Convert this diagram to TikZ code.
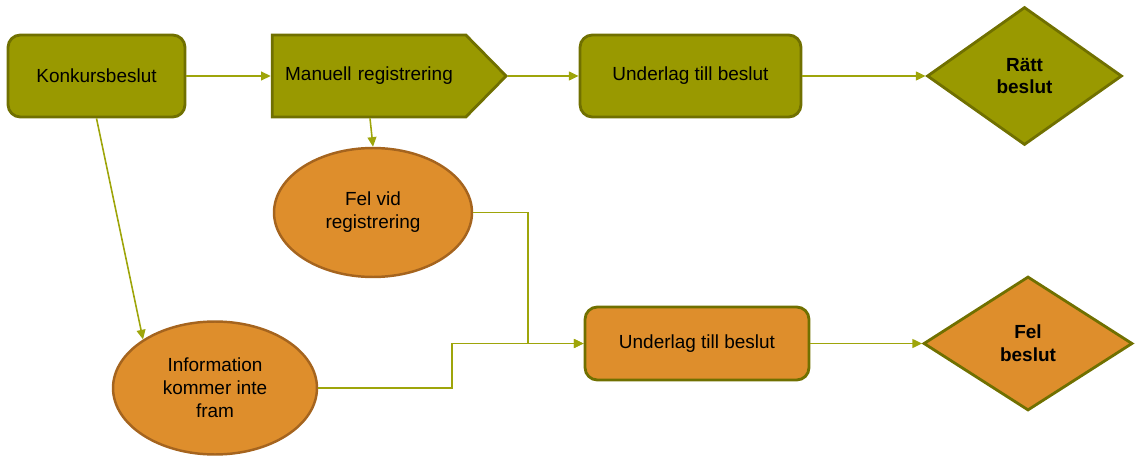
\documentclass[tikz,border=0pt]{standalone}
\usepackage{fontspec}
\setmainfont{Liberation Sans}
\usetikzlibrary{arrows.meta,shapes.geometric,shapes.symbols}
\definecolor{olivefill}{RGB}{153,153,0}
\definecolor{olivedraw}{RGB}{112,112,0}
\definecolor{orangefill}{RGB}{222,142,44}
\definecolor{orangedraw}{RGB}{165,100,30}
\definecolor{connline}{RGB}{158,165,10}
\begin{document}
\begin{tikzpicture}[x=0.02cm, y=-0.02cm,
        every node/.style={font=\fontsize{10.8}{13}\selectfont, align=center, text=black},
        flowbox/.style={draw=olivedraw, line width=1.6pt, rounded corners=7pt},
        choice/.style={diamond, draw=olivedraw, line width=1.6pt, inner sep=0pt},
        fault/.style={ellipse, draw=orangedraw, fill=orangefill, line width=1.4pt},
        conn/.style={draw=connline, line width=0.9pt, -{Triangle[length=5.5pt,width=5pt]}}]
                \useasboundingbox (0, 0) rectangle (1135, 459);
                \node[flowbox, fill=olivefill, minimum width=3.54cm, minimum height=1.64cm] (konk) at (96.5, 76) {Konkursbeslut};
                \node[signal, signal to=east, signal pointer angle=91, draw=olivedraw, fill=olivefill, line width=1.6pt,
                      minimum width=4.68cm, minimum height=1.64cm, text width=3.4cm] (manuell) at (369, 76) {Manuell registrering};
                \node[flowbox, fill=olivefill, minimum width=4.42cm, minimum height=1.64cm] (underlag) at (690.5, 76) {Underlag till beslut};
                \node[choice, fill=olivefill, minimum width=3.9cm, minimum height=2.76cm] (ratt) at (1024.5, 76) {\textbf{Rätt}\\\textbf{beslut}};
                \node[fault, minimum width=3.96cm, minimum height=2.58cm] (felreg) at (373, 212.5) {Fel vid\\registrering};
                \node[fault, minimum width=4.08cm, minimum height=2.66cm] (info) at (215, 388) {Information\\kommer inte\\fram};
                \node[flowbox, fill=orangefill, minimum width=4.48cm, minimum height=1.46cm] (felunderlag) at (697, 343.5) {Underlag till beslut};
                \node[choice, fill=orangefill, minimum width=4.18cm, minimum height=2.68cm] (fel) at (1028, 343.5) {\textbf{Fel}\\\textbf{beslut}};
                \coordinate (j1) at (528, 343.5);
                \coordinate (j2) at (452, 0);
                \draw[conn] (konk.east) -- (manuell.west);
                \draw[conn] (manuell.east) -- (underlag.west);
                \draw[conn] (underlag.east) -- (ratt.west);
                \draw[conn] (manuell.south -| 370, 0) -- (felreg.north);
                \draw[conn] (konk.south) -- (info.146);
                \draw[conn] (felreg.east) -| (j1) -- (felunderlag.west);
                \draw[conn] (info.east) -- (info.east -| j2) |- (felunderlag.west);
                \draw[conn] (felunderlag.east) -- (fel.west);
            \end{tikzpicture}
\end{document}
